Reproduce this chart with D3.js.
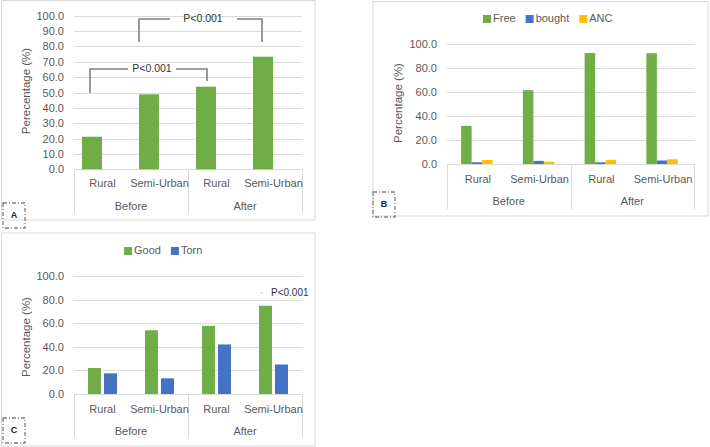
<!DOCTYPE html>
<html>
<head>
<meta charset="utf-8">
<script src="https://cdn.jsdelivr.net/npm/d3@7"></script>
<style>
  body { margin: 0; background: #fff; }
  text { font-family: "Liberation Sans", Arial, sans-serif; }
</style>
</head>
<body>
<div id="chart"></div>
<script>
// data
const categories = ["Rural", "Semi-Urban", "Rural", "Semi-Urban"];
const periods = ["Before", "After"];
const ticksA = [0, 10, 20, 30, 40, 50, 60, 70, 80, 90, 100];
const ticksBC = [0, 20, 40, 60, 80, 100];

const coverA = [21.2, 48.8, 53.8, 73.3];

const freeB = [31.8, 61.5, 92.5, 92.3];
const boughtB = [1.4, 2.6, 1.4, 2.9];
const ancB = [3.4, 2.0, 3.5, 4.0];

const goodC = [22.0, 54.0, 57.8, 74.8];
const tornC = [17.5, 13.3, 42.0, 25.0];

const seriesB = ["Free", "bought", "ANC"];
const seriesC = ["Good", "Torn"];

const green = "#70ad47", blue = "#4472c4", yellow = "#ffc000";
const grid = "#d9d9d9", tickCol = "#595959";

let svg = d3.select("#chart").append("svg")
    .attr("width", 710)
    .attr("height", 447);

function panel(p) {
    let g = svg.append("g");

    // outer frame
    g.append("rect")
        .attr("x", p.box[0]).attr("y", p.box[1])
        .attr("width", p.box[2] - p.box[0]).attr("height", p.box[3] - p.box[1])
        .attr("fill", "#fff").attr("stroke", grid).attr("stroke-width", 1);

    let y = d3.scaleLinear().domain([0, 100]).range([p.bottom, p.top]);
    let x = d3.scaleBand().domain(d3.range(categories.length)).range([p.left, p.right]);

    // gridlines
    g.selectAll(".grid").data(p.ticks.slice(1)).enter().append("line")
        .attr("x1", p.left).attr("x2", p.right)
        .attr("y1", d => Math.round(y(d)) + 0.5).attr("y2", d => Math.round(y(d)) + 0.5)
        .attr("stroke", grid).attr("stroke-width", 1);

    // y axis labels
    let yAxis = d3.axisLeft(y).tickValues(p.ticks).tickFormat(d3.format(".1f")).tickSize(0).tickPadding(10);
    let ya = g.append("g").attr("transform", `translate(${p.left},0)`).call(yAxis);
    ya.select(".domain").remove();
    ya.selectAll("text").attr("fill", tickCol).style("font-size", "11px")
        .style("font-family", "Liberation Sans, Arial, sans-serif");

    // y title
    g.append("text")
        .attr("transform", `translate(${p.titleX},${p.titleY}) rotate(-90)`)
        .attr("text-anchor", "middle").attr("dominant-baseline", "middle")
        .attr("fill", tickCol).style("font-size", "11.5px")
        .text(p.yTitle);

    // category axis: baseline + separators
    let base = Math.round(p.bottom) + 0.5;
    g.append("line").attr("x1", p.left).attr("x2", p.right).attr("y1", base).attr("y2", base)
        .attr("stroke", grid);
    [p.left, (p.left + p.right) / 2, p.right].forEach(function(sx) {
        g.append("line").attr("x1", Math.round(sx) + 0.5).attr("x2", Math.round(sx) + 0.5)
            .attr("y1", base).attr("y2", p.sepBottom).attr("stroke", grid);
    });

    g.selectAll(".cat").data(categories).enter().append("text")
        .attr("x", (d, i) => x(i) + x.bandwidth() / 2)
        .attr("y", p.lab1)
        .attr("text-anchor", "middle").attr("dominant-baseline", "middle")
        .attr("fill", tickCol).style("font-size", "11px")
        .text(d => d);

    let xp = d3.scaleBand().domain(periods).range([p.left, p.right]);
    g.selectAll(".per").data(periods).enter().append("text")
        .attr("x", d => xp(d) + xp.bandwidth() / 2)
        .attr("y", p.lab2)
        .attr("text-anchor", "middle").attr("dominant-baseline", "middle")
        .attr("fill", tickCol).style("font-size", "11px")
        .text(d => d);

    // bars
    p.series.forEach(function(s, k) {
        let n = p.series.length;
        let groupW = n * p.barW + (n - 1) * p.gap;
        g.selectAll(".bar" + k).data(s.values).enter().append("rect")
            .attr("x", (d, i) => x(i) + x.bandwidth() / 2 + p.shift - groupW / 2 + k * (p.barW + p.gap))
            .attr("y", d => y(d))
            .attr("width", p.barW)
            .attr("height", d => p.bottom - y(d))
            .attr("fill", s.color);
    });

    // legend
    if (p.legend) {
        let lx = p.legend.x;
        p.series.forEach(function(s, k) {
            g.append("rect").attr("x", lx).attr("y", p.legend.y - 4)
                .attr("width", 8).attr("height", 8).attr("fill", s.color);
            let t = g.append("text").attr("x", lx + 10).attr("y", p.legend.y)
                .attr("dominant-baseline", "middle").attr("fill", tickCol)
                .style("font-size", "11px").text(s.name);
            lx += 10 + t.node().getComputedTextLength() + 10;
        });
    }

    // panel tag box
    g.append("rect")
        .attr("x", p.tag[0]).attr("y", p.tag[1]).attr("width", 22).attr("height", 25)
        .attr("fill", "none").attr("stroke", "#7f7f7f").attr("stroke-width", 1.3)
        .attr("stroke-dasharray", "4,2,1,2");
    g.append("text").attr("x", p.tag[0] + 11).attr("y", p.tag[1] + 13)
        .attr("text-anchor", "middle").attr("dominant-baseline", "middle")
        .style("font-size", "9px").style("font-weight", "bold").attr("fill", "#222")
        .text(p.name);

    return {g: g, x: x, y: y};
}

let A = panel({
    name: "A", box: [1.5, 0.5, 315, 220],
    left: 74, right: 302, top: 15.7, bottom: 169.3, ticks: ticksA,
    sepBottom: 213, lab1: 184, lab2: 207,
    titleX: 27, titleY: 91, yTitle: "Perecentage (%)",
    series: [{name: "Coverage", values: coverA, color: green}],
    barW: 20, gap: 0, shift: -10.5,
    tag: [3, 203]
});

let B = panel({
    name: "B", box: [373, 1.5, 708, 216],
    left: 447, right: 694, top: 44, bottom: 164, ticks: ticksBC,
    sepBottom: 209, lab1: 180, lab2: 202,
    titleX: 399, titleY: 103, yTitle: "Percentage (%)",
    series: [{name: seriesB[0], values: freeB, color: green},
             {name: seriesB[1], values: boughtB, color: blue},
             {name: seriesB[2], values: ancB, color: yellow}],
    barW: 10.5, gap: 0, shift: -1,
    legend: {x: 483, y: 19},
    tag: [373, 192]
});

let C = panel({
    name: "C", box: [1.5, 233, 315, 446],
    left: 74, right: 302, top: 276, bottom: 394, ticks: ticksBC,
    sepBottom: 438, lab1: 410, lab2: 432,
    titleX: 27, titleY: 337, yTitle: "Percentage (%)",
    series: [{name: seriesC[0], values: goodC, color: green},
             {name: seriesC[1], values: tornC, color: blue}],
    barW: 13, gap: 3, shift: 0,
    legend: {x: 124, y: 251},
    tag: [3, 418]
});

// significance brackets on panel A
function bracket(g, x1, x2, yTop, yL, yR, label, tx, gapL, gapR) {
    let col = "#7f7f7f";
    g.append("path")
        .attr("d", `M${x1},${yL}V${yTop}H${gapL}M${gapR},${yTop}H${x2}V${yR}`)
        .attr("fill", "none").attr("stroke", col).attr("stroke-width", 1.6);
    g.append("text").attr("x", tx).attr("y", yTop)
        .attr("text-anchor", "middle").attr("dominant-baseline", "middle")
        .attr("fill", "#333").style("font-size", "10.5px").text(label);
}
bracket(A.g, 139, 262, 19, 42, 42, "P<0.001", 203, 170, 237);
bracket(A.g, 90, 207, 69, 93, 81, "P<0.001", 152, 128, 176);

// annotation on panel C
C.g.append("circle").attr("cx", 262).attr("cy", 293).attr("r", 0.8).attr("fill", "#9dc3e6");
C.g.append("text").attr("x", 271).attr("y", 293)
    .attr("dominant-baseline", "middle").attr("fill", "#333")
    .style("font-size", "10px").text("P<0.001");
</script>
</body>
</html>
